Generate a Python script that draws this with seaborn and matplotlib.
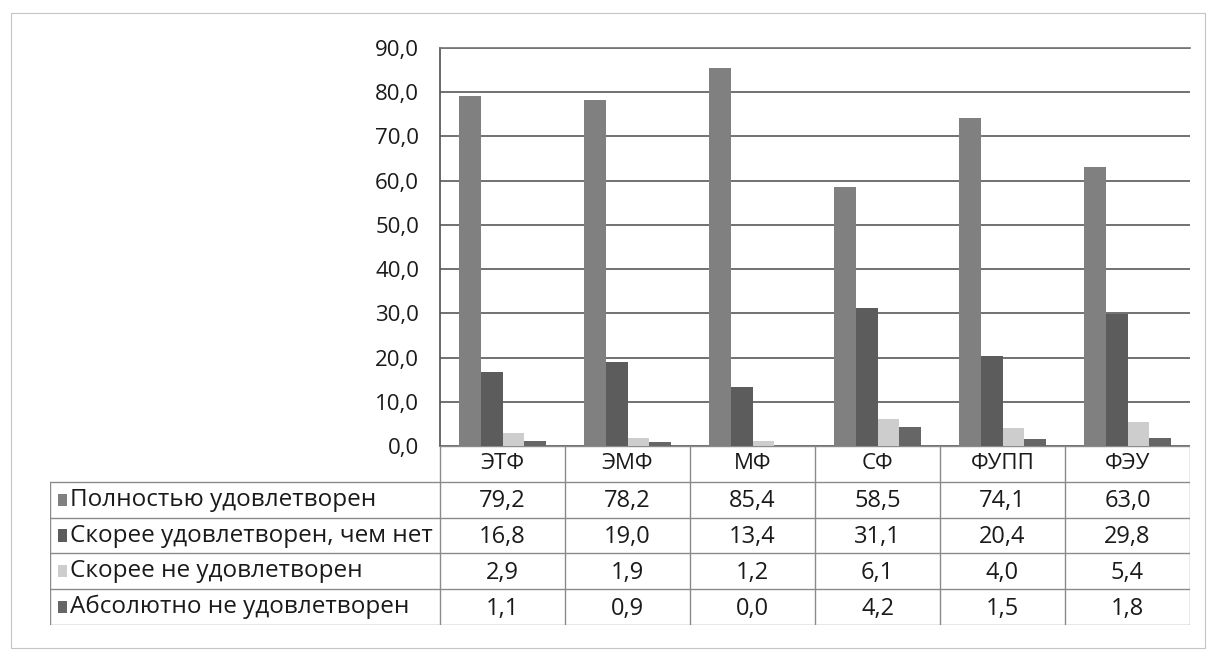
import pandas as pd
import matplotlib.pyplot as plt
import seaborn as sns
from matplotlib.patches import Rectangle

faculties = ['ЭТФ', 'ЭМФ', 'МФ', 'СФ', 'ФУПП', 'ФЭУ']
series_names = ['Полностью удовлетворен', 'Скорее удовлетворен, чем нет',
                'Скорее не удовлетворен', 'Абсолютно не удовлетворен']
fully = [79.2, 78.2, 85.4, 58.5, 74.1, 63.0]
rather_yes = [16.8, 19.0, 13.4, 31.1, 20.4, 29.8]
rather_no = [2.9, 1.9, 1.2, 6.1, 4.0, 5.4]
absolutely_no = [1.1, 0.9, 0.0, 4.2, 1.5, 1.8]
y_ticks = [0, 10, 20, 30, 40, 50, 60, 70, 80, 90]

colors = ['#808080', '#5c5c5c', '#cdcdcd', '#666666']

values = [fully, rather_yes, rather_no, absolutely_no]
rows = []
for name, vals in zip(series_names, values):
    for fac, v in zip(faculties, vals):
        rows.append({'faculty': fac, 'series': name, 'value': v})
df = pd.DataFrame(rows)

sns.set_theme(style="white")
plt.rcParams['font.family'] = ['Open Sans', 'DejaVu Sans']

W, H = 1209, 664
fig = plt.figure(figsize=(W / 100, H / 100), dpi=100)


def px_box(x0, y0, x1, y1):
    # pixel box (top-left origin) -> figure fraction
    return [x0 / W, 1 - y1 / H, (x1 - x0) / W, (y1 - y0) / H]


# faint outer chart frame
frame_ax = fig.add_axes([0, 0, 1, 1])
frame_ax.set_xlim(0, W)
frame_ax.set_ylim(H, 0)
frame_ax.axis('off')
frame_ax.add_patch(Rectangle((11, 13), 1194, 635, fill=False, edgecolor='#c4c4c4', linewidth=0.8))

# --- bar chart ---
ax = fig.add_axes(px_box(440, 48, 1190, 446))
sns.barplot(data=df, x='faculty', y='value', hue='series', palette=colors,
            width=0.7, saturation=1, legend=False, ax=ax, edgecolor='none')
ax.set_ylim(0, 90)
ax.set_xlim(-0.5, 5.5)
ax.set_yticks(y_ticks)
ax.set_yticklabels([f"{t:.1f}".replace('.', ',') for t in y_ticks], fontsize=16, color='#1a1a1a')
ax.set_xticks([])
ax.set_xlabel('')
ax.set_ylabel('')
ax.yaxis.grid(True, color='#4a4a4a', linewidth=1.1)
ax.set_axisbelow(True)
for side in ['top', 'left', 'right', 'bottom']:
    ax.spines[side].set_visible(False)
ax.spines['left'].set_visible(True)
ax.spines['left'].set_color('#555555')
ax.spines['top'].set_visible(True)
ax.spines['top'].set_color('#777777')
ax.tick_params(axis='y', length=0, pad=15)

# --- data table under the chart ---
label_w = (440 - 50) / 125.0
tab = fig.add_axes(px_box(50, 446, 1190, 625))
tab.set_xlim(-0.5 - label_w, 5.5)
tab.set_ylim(5, 0)
tab.axis('off')
line_kw = dict(color='#8a8a8a', linewidth=1.0)

# header row (only under the plot columns)
tab.plot([-0.5, 5.5], [0, 0], **line_kw)
for i in range(len(faculties) + 1):
    tab.plot([i - 0.5, i - 0.5], [0, 5], **line_kw)
for i, fac in enumerate(faculties):
    tab.text(i, 0.5, fac, ha='center', va='center', fontsize=16, color='#1a1a1a')

# body rows
for r in range(1, 6):
    tab.plot([-0.5 - label_w, 5.5], [r, r], **line_kw)
tab.plot([-0.5 - label_w, -0.5 - label_w], [1, 5], **line_kw)

for r, (name, vals, col) in enumerate(zip(series_names, values, colors)):
    yc = r + 1.5
    tab.add_patch(Rectangle((-0.5 - label_w + 0.06, yc - 0.17), 0.075, 0.34,
                            facecolor=col, edgecolor='none'))
    tab.text(-0.5 - label_w + 0.16, yc, name, ha='left', va='center',
             fontsize=17.5, color='#1a1a1a')
    for i, v in enumerate(vals):
        tab.text(i, yc + 0.05, f"{v:.1f}".replace('.', ','), ha='center', va='center',
                 fontsize=17, color='#1a1a1a')

plt.savefig('out.png', dpi=100)
